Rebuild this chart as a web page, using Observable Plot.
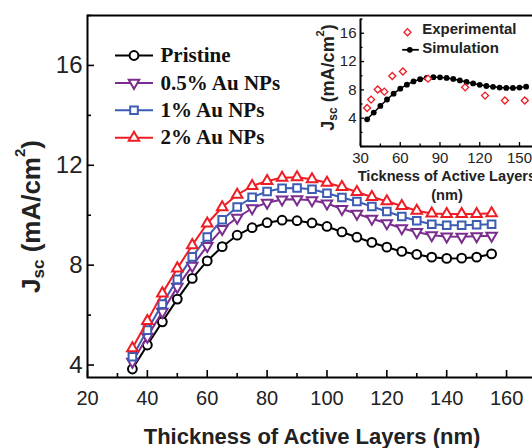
<!DOCTYPE html>
<html><head><meta charset="utf-8">
<script src="https://cdn.jsdelivr.net/npm/d3@7"></script>
<script src="https://cdn.jsdelivr.net/npm/@observablehq/plot@0.6"></script>
<style>
html,body{margin:0;padding:0;background:#fff;overflow:hidden;}
#wrap{position:relative;width:532px;height:448px;overflow:hidden;background:#fff;}
#wrap > svg{position:absolute;}
</style></head><body><div id="wrap"></div>
<script>
// ---- main chart data ----
const thickness = [35,40,45,50,55,60,65,70,75,80,85,90,95,100,105,110,115,120,125,130,135,140,145,150,155];
const pristine = [3.84,4.80,5.73,6.64,7.47,8.17,8.74,9.20,9.50,9.70,9.80,9.78,9.69,9.55,9.33,9.12,8.91,8.72,8.55,8.43,8.32,8.27,8.28,8.32,8.45];
const au05 = [4.13,5.13,6.13,7.13,7.97,8.77,9.45,9.90,10.28,10.50,10.63,10.64,10.60,10.47,10.25,10.06,9.86,9.68,9.48,9.33,9.20,9.15,9.14,9.16,9.18];
const au1 = [4.33,5.40,6.44,7.43,8.33,9.13,9.82,10.33,10.72,10.95,11.08,11.09,11.04,10.88,10.71,10.55,10.35,10.15,9.95,9.78,9.64,9.60,9.60,9.62,9.64];
const au2 = [4.67,5.76,6.87,7.87,8.80,9.67,10.32,10.82,11.17,11.37,11.50,11.52,11.44,11.30,11.13,10.93,10.73,10.56,10.37,10.18,10.07,10.05,10.05,10.05,10.08];
const seriesNames = ["Pristine","0.5% Au NPs","1% Au NPs","2% Au NPs"];
const seriesColors = ["#000000","#7b2d8e","#3d5cb3","#ee1d25"];
const xDomain = [20,170];
const yDomain = [3.5,18];
const xMajor = [20,40,60,80,100,120,140,160];
const xMinor = [30,50,70,90,110,130,150,170];
const yMajor = [4,8,12,16];
const yMinor = [6,10,14,18];

// ---- inset data ----
const expThickness = [35,38,43,48,54,62,81,109,124,139,154];
const expJsc = [5.44,6.63,8.05,7.75,9.96,10.60,9.58,8.36,7.19,6.50,6.50];
const insetLegend = ["Experimental","Simulation"];
const insetXDomain = [30,165];
const insetYDomain = [0,18];
const insetXMajor = [30,60,90,120,150];
const insetXMinor = [45,75,105,135];
const insetYMajor = [0,4,8,12,16];
const insetYMinor = [2,6,10,14,18];
const insetYLabels = [4,8,12,16];

// ---- styles table ----
const seriesStyle = [
  {symbol:"circle", rotate:0, r:4.4},
  {symbol:"triangle", rotate:180, r:3.9},
  {symbol:"square", rotate:0, r:4.3},
  {symbol:"triangle", rotate:0, r:3.9}
];
const seriesValues = [pristine, au05, au1, au2];
const series = seriesNames.map((name,k)=>({
  name, color: seriesColors[k], ...seriesStyle[k],
  data: thickness.map((t,i)=>({t, j: seriesValues[k][i]}))
}));
const lineSym = half => ({draw(ctx){ ctx.moveTo(-half,0); ctx.lineTo(half,0); }});

const SANS = "Liberation Sans, Arial, sans-serif";
const SERIF = "Liberation Serif, Times New Roman, serif";

// main geometry
const W = 536, H = 448, ML = 87, MR = 0, MT = 15, MB = 71;
const FW = W-ML-MR, FH = H-MT-MB;

const legendMarks = series.flatMap((s,i)=>{
  const dy = 40 + 27.4*i;
  return [
    Plot.dot([s.name], {frameAnchor:"top-left", dx:46.5, dy, symbol: lineSym(19), r:1, stroke:s.color, strokeWidth:2, fill:"none"}),
    Plot.dot([s.name], {frameAnchor:"top-left", dx:46.5, dy, symbol:s.symbol, rotate:s.rotate, r:s.r, stroke:s.color, strokeWidth:2, fill:"white"}),
    Plot.text([s.name], {frameAnchor:"top-left", dx:73, dy, text:d=>d, fontFamily:SERIF, fontWeight:"bold", fontSize:21, textAnchor:"start", lineAnchor:"middle", fill:"#111"})
  ];
});

const main = Plot.plot({
  width: W, height: H, marginLeft: ML, marginRight: MR, marginTop: MT, marginBottom: MB,
  style: {fontFamily: SANS, background: "transparent", maxWidth: "none", overflow: "visible"},
  x: {domain: xDomain, axis: null},
  y: {domain: yDomain, axis: null},
  marks: [
    Plot.frame({stroke:"#000", strokeWidth:2}),
    Plot.tickX(xMajor, {x:d=>d, insetTop: FH-7, stroke:"#000", strokeWidth:1.6}),
    Plot.tickX(xMinor, {x:d=>d, insetTop: FH-4, stroke:"#000", strokeWidth:1.6}),
    Plot.tickY(yMajor, {y:d=>d, insetRight: FW-7, stroke:"#000", strokeWidth:1.6}),
    Plot.tickY(yMinor, {y:d=>d, insetRight: FW-4, stroke:"#000", strokeWidth:1.6}),
    Plot.text(xMajor, {x:d=>d, text:d=>String(d), frameAnchor:"bottom", dy:20.8, fontSize:20, textAnchor:"middle", lineAnchor:"middle", fill:"#222"}),
    Plot.text(yMajor, {y:d=>d, text:d=>String(d), frameAnchor:"left", dx:-5, fontSize:24, textAnchor:"end", lineAnchor:"middle", fill:"#222"}),
    ...series.flatMap(s=>[
      Plot.line(s.data, {x:"t", y:"j", stroke:s.color, strokeWidth:2}),
      Plot.dot(s.data, {x:"t", y:"j", symbol:s.symbol, rotate:s.rotate, r:s.r, stroke:s.color, strokeWidth:2, fill:"white"})
    ]),
    ...legendMarks,
    Plot.text(["Thickness of Active Layers (nm)"], {frameAnchor:"bottom", dy:59.3, text:d=>d, fontSize:22, fontWeight:"bold", textAnchor:"middle", lineAnchor:"middle", fill:"#222"})
  ]
});
main.style.left = "0px"; main.style.top = "0px";
document.getElementById("wrap").appendChild(main);

// main y title with sub/superscripts
{
  const t = d3.select(main).append("text")
    .attr("transform","translate(39.5,216.5) rotate(-90)")
    .attr("text-anchor","middle").attr("font-family",SANS).attr("font-weight","bold")
    .attr("font-size",26).attr("fill","#222");
  t.append("tspan").text("J");
  t.append("tspan").attr("dy",4).attr("font-size",17).text("sc");
  t.append("tspan").attr("dy",-4).text(" (mA/cm");
  t.append("tspan").attr("dy",-15).attr("font-size",15).text("2");
  t.append("tspan").attr("dy",15).text(")");
}

// ---- inset ----
const IML = 60, IMT = 18.6, IMB = 54, IH = 200;
const IFW = (insetXDomain[1]-insetXDomain[0])*1.325;
const IW = IML + IFW;
const IFH = IH - IMT - IMB;
const simData = thickness.map((t,i)=>({t, j: pristine[i]}));
const expData = expThickness.map((t,i)=>({t, j: expJsc[i]}));

const inset = Plot.plot({
  width: IW, height: IH, marginLeft: IML, marginRight: 0, marginTop: IMT, marginBottom: IMB,
  style: {fontFamily: SANS, background: "transparent", maxWidth: "none", overflow: "visible"},
  x: {domain: insetXDomain, axis: null},
  y: {domain: insetYDomain, axis: null},
  marks: [
    Plot.ruleX([insetXDomain[0]], {stroke:"#000", strokeWidth:2}),
    Plot.ruleY([insetYDomain[0]], {stroke:"#000", strokeWidth:2}),
    Plot.tickX(insetXMajor, {x:d=>d, insetTop: IFH-4, stroke:"#000", strokeWidth:1.3}),
    Plot.tickX(insetXMinor, {x:d=>d, insetTop: IFH-2.5, stroke:"#000", strokeWidth:1.3}),
    Plot.tickY(insetYMajor, {y:d=>d, insetRight: IFW-4, stroke:"#000", strokeWidth:1.3}),
    Plot.tickY(insetYMinor, {y:d=>d, insetRight: IFW-2.5, stroke:"#000", strokeWidth:1.3}),
    Plot.text(insetXMajor, {x:d=>d, text:d=>String(d), frameAnchor:"bottom", dy:11.3, fontSize:15, textAnchor:"middle", lineAnchor:"middle", fill:"#222"}),
    Plot.text(insetYLabels, {y:d=>d, text:d=>String(d), frameAnchor:"left", dx:-4, fontSize:15, textAnchor:"end", lineAnchor:"middle", fill:"#222"}),
    Plot.line(simData, {x:"t", y:"j", stroke:"#000", strokeWidth:1.5}),
    Plot.dot(simData, {x:"t", y:"j", r:2.9, fill:"#000", stroke:"none"}),
    Plot.dot(expData, {x:"t", y:"j", symbol:"square", rotate:45, r:2.8, stroke:"#ee1d25", strokeWidth:1.3, fill:"white"}),
    // inset legend
    Plot.dot([insetLegend[0]], {frameAnchor:"top-left", dx:47, dy:13.1, symbol:"square", rotate:45, r:2.8, stroke:"#ee1d25", strokeWidth:1.3, fill:"white"}),
    Plot.text([insetLegend[0]], {frameAnchor:"top-left", dx:61.7, dy:10.2, text:d=>d, fontSize:15, fontWeight:"bold", textAnchor:"start", lineAnchor:"middle", fill:"#222"}),
    Plot.dot([insetLegend[1]], {frameAnchor:"top-left", dx:50, dy:30.7, symbol: lineSym(8.3), r:1, stroke:"#000", strokeWidth:1.8, fill:"none"}),
    Plot.dot([insetLegend[1]], {frameAnchor:"top-left", dx:49.3, dy:30.7, r:2.9, fill:"#000", stroke:"none"}),
    Plot.text([insetLegend[1]], {frameAnchor:"top-left", dx:61.7, dy:29.1, text:d=>d, fontSize:15, fontWeight:"bold", textAnchor:"start", lineAnchor:"middle", fill:"#222"}),
    Plot.text(["Tickness of Active Layers\n(nm)"], {frameAnchor:"bottom", dx:-3, dy:21.3, text:d=>d, fontSize:14.6, fontWeight:"bold", textAnchor:"middle", lineAnchor:"top", lineHeight:1.28, fill:"#222"})
  ]
});
inset.style.left = "300px"; inset.style.top = "0px";
document.getElementById("wrap").appendChild(inset);
{
  const t = d3.select(inset).append("text")
    .attr("transform","translate(34.4,77.5) rotate(-90)")
    .attr("text-anchor","middle").attr("font-family",SANS).attr("font-weight","bold")
    .attr("font-size",18).attr("fill","#222");
  t.append("tspan").text("J");
  t.append("tspan").attr("dy",3).attr("font-size",12).text("sc");
  t.append("tspan").attr("dy",-3).text(" (mA/cm");
  t.append("tspan").attr("dy",-10).attr("font-size",11).text("2");
  t.append("tspan").attr("dy",10).text(")");
}
</script></body></html>
